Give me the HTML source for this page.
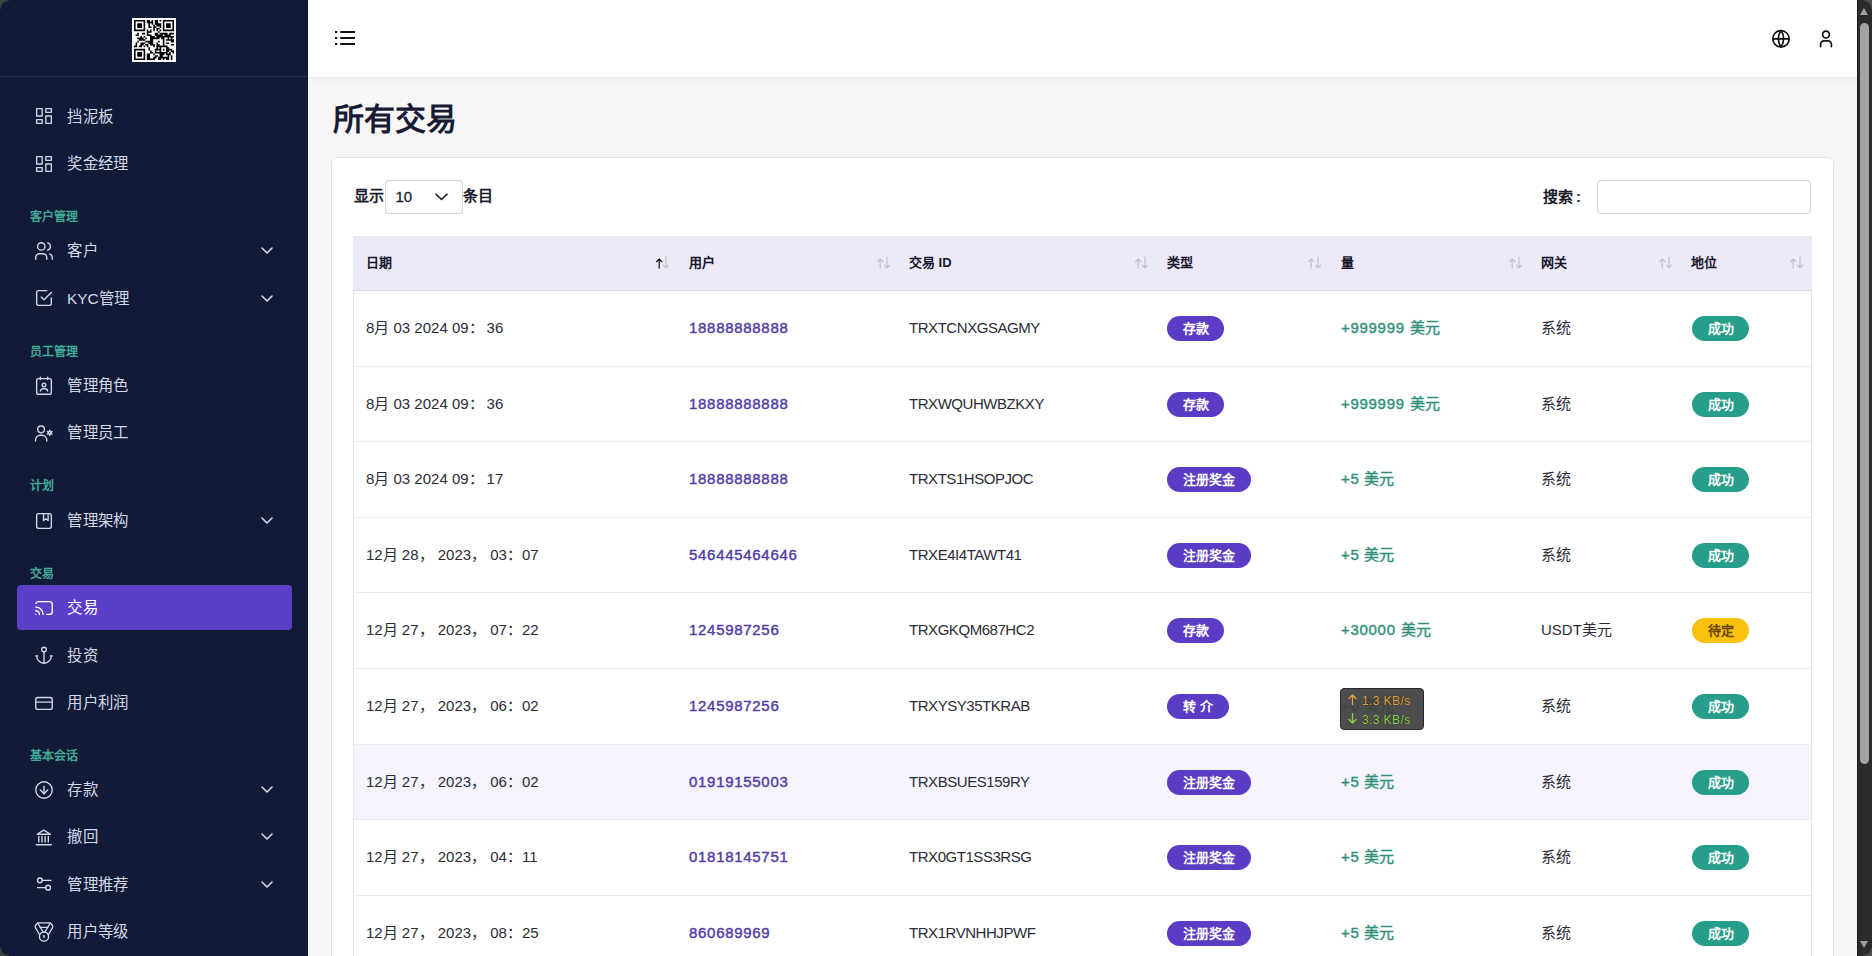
<!DOCTYPE html>
<html lang="zh-CN"><head><meta charset="utf-8">
<style>
*{box-sizing:border-box;margin:0;padding:0}
html,body{width:1872px;height:956px;overflow:hidden;background:#f6f6f6;font-family:"Liberation Sans",sans-serif;}
.sb{position:absolute;left:0;top:0;width:308px;height:956px;background:#111a37;}
.sb .logo{position:absolute;left:0;top:0;width:308px;height:77px;border-bottom:1px solid #283150;}
.qr{position:absolute;left:132px;top:18px;width:44px;height:44px;}
.qr svg{display:block}
.it{position:absolute;left:17px;width:275px;height:45px;border-radius:4px;color:#d3d8e8;font-size:15.4px;}
.it .ic{position:absolute;left:15.5px;top:11.5px;width:22px;height:22px;}
.it .tx{position:absolute;left:50px;top:0;line-height:45px;white-space:nowrap;}
.it .ch{position:absolute;left:244px;top:19px;width:12px;height:7px;}
.it.act{background:#5c3fc8;color:#fff;}
.sec{position:absolute;left:30px;font-size:12px;font-weight:bold;color:#42a996;line-height:14px;white-space:nowrap;}
.top{position:absolute;left:308px;top:0;width:1549px;height:78px;background:#fff;box-shadow:0 2px 8px rgba(0,0,0,0.035);border-bottom:1px solid #e9e9ec;}
.top svg{position:absolute;}
.title{position:absolute;left:333px;top:98px;font-size:31px;font-weight:bold;color:#171b34;line-height:44px;white-space:nowrap;}
.card{position:absolute;left:331px;top:157px;width:1503px;height:820px;background:#fff;border:1px solid #e2e2e5;border-radius:6px;}
.lbl{position:absolute;font-size:15px;font-weight:bold;color:#1b1d2b;line-height:20px;white-space:nowrap;}
.sel{position:absolute;left:385px;top:180px;width:78px;height:34px;border:1px solid #d2d2d8;border-radius:4px;background:#fff;}
.sel span{position:absolute;left:9.5px;top:0;line-height:32px;font-size:15px;color:#1b1d2b;-webkit-text-stroke:0.3px #1b1d2b;}
.sel svg{position:absolute;left:49px;top:12px;}
.inp{position:absolute;left:1597px;top:180px;width:214px;height:34px;border:1px solid #d2d2d8;border-radius:4px;background:#fff;}
.thead{position:absolute;left:353px;top:236px;width:1459px;height:55px;background:#ede9f9;border-bottom:1px solid #d9d6e6;}
.th{position:absolute;top:0;line-height:54px;font-size:13px;font-weight:bold;color:#14162a;white-space:nowrap;}
.so{display:block;width:14px;height:14px;}
.tbody{position:absolute;left:353px;top:291px;width:1459px;height:700px;border-left:1px solid #e6e6ea;border-right:1px solid #e6e6ea;}
.row{position:absolute;left:0;width:1457px;height:75.5px;border-bottom:1px solid #ececf0;}
.row.hov{background:#f5f4fc;}
.c{position:absolute;top:0;line-height:74px;font-size:15px;color:#2c2c38;white-space:nowrap;}
.u{color:#503ba6;-webkit-text-stroke:0.4px #503ba6;letter-spacing:0.7px;}
.am{color:#2e9079;-webkit-text-stroke:0.4px #2e9079;letter-spacing:0.7px;}
.tid{letter-spacing:-0.45px;}
.bd{position:absolute;top:25px;height:25px;border-radius:13px;font-size:13px;font-weight:bold;color:#fff;line-height:25px;text-align:center;white-space:nowrap;}
.cj{display:inline-block;width:1em;text-align:center;}
.bp{background:#5b3cc4;}
.bg{background:#269e8a;}
.by{background:#f8c10d;color:#6a4500;}
.net{position:absolute;left:1340px;top:688px;width:84px;height:42px;background:rgba(62,62,62,0.92);border:1px solid #2a2a2a;border-radius:4px;}
.net div{position:absolute;left:21px;font-size:12px;line-height:14px;letter-spacing:0.4px;white-space:nowrap;text-shadow:0 0 1px #111;}
.net svg{position:absolute;left:7px;}
.net .a{top:5px;color:#e9a23b}.net .b{top:24px;color:#8bd24b}
.sbar{position:absolute;left:1857px;top:0;width:15px;height:956px;background:#2b2b2b;border-left:1px solid #1e1e1e;}
.wc{position:absolute;width:9px;height:9px;}
.thumb{position:absolute;left:2px;top:23px;width:9px;height:741px;background:#a3a3a3;border-radius:5px;}
.sbar .up,.sbar .dn{position:absolute;left:2px;width:0;height:0;border-left:4.6px solid transparent;border-right:4.6px solid transparent;}
.sbar .up{top:8px;border-bottom:7px solid #a0a0a0;}
.sbar .dn{top:941px;border-top:7px solid #a0a0a0;}
</style></head><body>
<div class="sb">
  <div class="logo"><div class="qr"><svg width="44" height="44" viewBox="0 0 44 44"><rect width="44" height="44" fill="#fff"/><path d="M2.0 2.0h11.2v1.6h-11.2zM14.8 2.0h3.2v1.6h-3.2zM19.6 2.0h1.6v1.6h-1.6zM22.8 2.0h3.2v1.6h-3.2zM27.6 2.0h1.6v1.6h-1.6zM30.8 2.0h11.2v1.6h-11.2zM2.0 3.6h1.6v1.6h-1.6zM11.6 3.6h1.6v1.6h-1.6zM14.8 3.6h6.4v1.6h-6.4zM22.8 3.6h3.2v1.6h-3.2zM30.8 3.6h1.6v1.6h-1.6zM40.4 3.6h1.6v1.6h-1.6zM2.0 5.2h1.6v1.6h-1.6zM5.2 5.2h4.8v1.6h-4.8zM11.6 5.2h1.6v1.6h-1.6zM16.4 5.2h1.6v1.6h-1.6zM19.6 5.2h1.6v1.6h-1.6zM22.8 5.2h6.4v1.6h-6.4zM30.8 5.2h1.6v1.6h-1.6zM34.0 5.2h4.8v1.6h-4.8zM40.4 5.2h1.6v1.6h-1.6zM2.0 6.8h1.6v1.6h-1.6zM5.2 6.8h4.8v1.6h-4.8zM11.6 6.8h1.6v1.6h-1.6zM16.4 6.8h1.6v1.6h-1.6zM21.2 6.8h1.6v1.6h-1.6zM24.4 6.8h4.8v1.6h-4.8zM30.8 6.8h1.6v1.6h-1.6zM34.0 6.8h4.8v1.6h-4.8zM40.4 6.8h1.6v1.6h-1.6zM2.0 8.4h1.6v1.6h-1.6zM5.2 8.4h4.8v1.6h-4.8zM11.6 8.4h1.6v1.6h-1.6zM16.4 8.4h3.2v1.6h-3.2zM21.2 8.4h3.2v1.6h-3.2zM27.6 8.4h1.6v1.6h-1.6zM30.8 8.4h1.6v1.6h-1.6zM34.0 8.4h4.8v1.6h-4.8zM40.4 8.4h1.6v1.6h-1.6zM2.0 10.0h1.6v1.6h-1.6zM11.6 10.0h1.6v1.6h-1.6zM21.2 10.0h1.6v1.6h-1.6zM24.4 10.0h3.2v1.6h-3.2zM30.8 10.0h1.6v1.6h-1.6zM40.4 10.0h1.6v1.6h-1.6zM2.0 11.6h11.2v1.6h-11.2zM14.8 11.6h1.6v1.6h-1.6zM18.0 11.6h1.6v1.6h-1.6zM21.2 11.6h1.6v1.6h-1.6zM24.4 11.6h1.6v1.6h-1.6zM27.6 11.6h1.6v1.6h-1.6zM30.8 11.6h11.2v1.6h-11.2zM14.8 13.2h4.8v1.6h-4.8zM26.0 13.2h1.6v1.6h-1.6zM5.2 14.8h1.6v1.6h-1.6zM10.0 14.8h3.2v1.6h-3.2zM14.8 14.8h1.6v1.6h-1.6zM22.8 14.8h3.2v1.6h-3.2zM27.6 14.8h8.0v1.6h-8.0zM37.2 14.8h4.8v1.6h-4.8zM3.6 16.4h3.2v1.6h-3.2zM14.8 16.4h4.8v1.6h-4.8zM22.8 16.4h8.0v1.6h-8.0zM32.4 16.4h6.4v1.6h-6.4zM8.4 18.0h1.6v1.6h-1.6zM11.6 18.0h1.6v1.6h-1.6zM18.0 18.0h4.8v1.6h-4.8zM24.4 18.0h17.6v1.6h-17.6zM5.2 19.6h6.4v1.6h-6.4zM13.2 19.6h1.6v1.6h-1.6zM18.0 19.6h9.6v1.6h-9.6zM29.2 19.6h3.2v1.6h-3.2zM35.6 19.6h1.6v1.6h-1.6zM38.8 19.6h1.6v1.6h-1.6zM6.8 21.2h6.4v1.6h-6.4zM18.0 21.2h3.2v1.6h-3.2zM30.8 21.2h1.6v1.6h-1.6zM34.0 21.2h8.0v1.6h-8.0zM5.2 22.8h1.6v1.6h-1.6zM13.2 22.8h8.0v1.6h-8.0zM26.0 22.8h1.6v1.6h-1.6zM30.8 22.8h1.6v1.6h-1.6zM38.8 22.8h3.2v1.6h-3.2zM3.6 24.4h1.6v1.6h-1.6zM8.4 24.4h4.8v1.6h-4.8zM16.4 24.4h4.8v1.6h-4.8zM24.4 24.4h1.6v1.6h-1.6zM30.8 24.4h1.6v1.6h-1.6zM34.0 24.4h3.2v1.6h-3.2zM3.6 26.0h1.6v1.6h-1.6zM8.4 26.0h3.2v1.6h-3.2zM13.2 26.0h3.2v1.6h-3.2zM18.0 26.0h4.8v1.6h-4.8zM24.4 26.0h3.2v1.6h-3.2zM30.8 26.0h1.6v1.6h-1.6zM38.8 26.0h3.2v1.6h-3.2zM2.0 27.6h3.2v1.6h-3.2zM6.8 27.6h3.2v1.6h-3.2zM11.6 27.6h1.6v1.6h-1.6zM14.8 27.6h1.6v1.6h-1.6zM21.2 27.6h1.6v1.6h-1.6zM24.4 27.6h11.2v1.6h-11.2zM16.4 29.2h1.6v1.6h-1.6zM24.4 29.2h1.6v1.6h-1.6zM27.6 29.2h1.6v1.6h-1.6zM34.0 29.2h3.2v1.6h-3.2zM2.0 30.8h11.2v1.6h-11.2zM16.4 30.8h1.6v1.6h-1.6zM22.8 30.8h6.4v1.6h-6.4zM30.8 30.8h1.6v1.6h-1.6zM34.0 30.8h6.4v1.6h-6.4zM2.0 32.4h1.6v1.6h-1.6zM11.6 32.4h1.6v1.6h-1.6zM18.0 32.4h1.6v1.6h-1.6zM22.8 32.4h1.6v1.6h-1.6zM27.6 32.4h1.6v1.6h-1.6zM34.0 32.4h3.2v1.6h-3.2zM38.8 32.4h3.2v1.6h-3.2zM2.0 34.0h1.6v1.6h-1.6zM5.2 34.0h4.8v1.6h-4.8zM11.6 34.0h1.6v1.6h-1.6zM18.0 34.0h3.2v1.6h-3.2zM22.8 34.0h12.8v1.6h-12.8zM37.2 34.0h1.6v1.6h-1.6zM40.4 34.0h1.6v1.6h-1.6zM2.0 35.6h1.6v1.6h-1.6zM5.2 35.6h4.8v1.6h-4.8zM11.6 35.6h1.6v1.6h-1.6zM14.8 35.6h3.2v1.6h-3.2zM21.2 35.6h1.6v1.6h-1.6zM27.6 35.6h4.8v1.6h-4.8zM34.0 35.6h4.8v1.6h-4.8zM2.0 37.2h1.6v1.6h-1.6zM5.2 37.2h4.8v1.6h-4.8zM11.6 37.2h1.6v1.6h-1.6zM14.8 37.2h3.2v1.6h-3.2zM22.8 37.2h3.2v1.6h-3.2zM27.6 37.2h3.2v1.6h-3.2zM35.6 37.2h1.6v1.6h-1.6zM38.8 37.2h1.6v1.6h-1.6zM2.0 38.8h1.6v1.6h-1.6zM11.6 38.8h1.6v1.6h-1.6zM14.8 38.8h3.2v1.6h-3.2zM21.2 38.8h3.2v1.6h-3.2zM26.0 38.8h11.2v1.6h-11.2zM38.8 38.8h1.6v1.6h-1.6zM2.0 40.4h11.2v1.6h-11.2zM14.8 40.4h8.0v1.6h-8.0zM26.0 40.4h3.2v1.6h-3.2zM30.8 40.4h1.6v1.6h-1.6zM34.0 40.4h3.2v1.6h-3.2zM38.8 40.4h1.6v1.6h-1.6z" fill="#000"/></svg></div></div>
<div class="it" style="top:93.5px"><svg class="ic" viewBox="0 0 24 24" fill="none" stroke="currentColor" stroke-width="1.5" stroke-linecap="round" stroke-linejoin="round"><path d="M4 4h6v8h-6z"/><path d="M4 16h6v4h-6z"/><path d="M14 12h6v8h-6z"/><path d="M14 4h6v4h-6z"/></svg><span class="tx"><span class="cj">挡</span><span class="cj">泥</span><span class="cj">板</span></span></div>
<div class="it" style="top:141.0px"><svg class="ic" viewBox="0 0 24 24" fill="none" stroke="currentColor" stroke-width="1.5" stroke-linecap="round" stroke-linejoin="round"><path d="M4 4h6v8h-6z"/><path d="M4 16h6v4h-6z"/><path d="M14 12h6v8h-6z"/><path d="M14 4h6v4h-6z"/></svg><span class="tx"><span class="cj">奖</span><span class="cj">金</span><span class="cj">经</span><span class="cj">理</span></span></div>
<div class="sec" style="top:209.5px"><span class="cj">客</span><span class="cj">户</span><span class="cj">管</span><span class="cj">理</span></div>
<div class="it" style="top:228.2px"><svg class="ic" viewBox="0 0 24 24" fill="none" stroke="currentColor" stroke-width="1.5" stroke-linecap="round" stroke-linejoin="round"><circle cx="9" cy="7" r="4"/><path d="M3 21v-2a4 4 0 0 1 4 -4h4a4 4 0 0 1 4 4v2"/><path d="M16 3.13a4 4 0 0 1 0 7.75"/><path d="M21 21v-2a4 4 0 0 0 -3 -3.85"/></svg><span class="tx"><span class="cj">客</span><span class="cj">户</span></span><svg class="ch" viewBox="0 0 12 7" fill="none" stroke="currentColor" stroke-width="1.6" stroke-linecap="round" stroke-linejoin="round"><path d="M1 1l5 5l5 -5"/></svg></div>
<div class="it" style="top:275.8px"><svg class="ic" viewBox="0 0 24 24" fill="none" stroke="currentColor" stroke-width="1.5" stroke-linecap="round" stroke-linejoin="round"><path d="M9 11l3 3l8 -8"/><path d="M20 12v6a2 2 0 0 1 -2 2h-12a2 2 0 0 1 -2 -2v-12a2 2 0 0 1 2 -2h9"/></svg><span class="tx">KYC<span class="cj">管</span><span class="cj">理</span></span><svg class="ch" viewBox="0 0 12 7" fill="none" stroke="currentColor" stroke-width="1.6" stroke-linecap="round" stroke-linejoin="round"><path d="M1 1l5 5l5 -5"/></svg></div>
<div class="sec" style="top:345.0px"><span class="cj">员</span><span class="cj">工</span><span class="cj">管</span><span class="cj">理</span></div>
<div class="it" style="top:363.1px"><svg class="ic" viewBox="0 0 24 24" fill="none" stroke="currentColor" stroke-width="1.5" stroke-linecap="round" stroke-linejoin="round"><rect x="4" y="4" width="16" height="17" rx="2"/><path d="M8 2.5v2.5M16 2.5v2.5"/><circle cx="12" cy="11" r="2"/><path d="M8 17.5a3 2.5 0 0 1 3 -2.5h2a3 2.5 0 0 1 3 2.5"/></svg><span class="tx"><span class="cj">管</span><span class="cj">理</span><span class="cj">角</span><span class="cj">色</span></span></div>
<div class="it" style="top:410.1px"><svg class="ic" viewBox="0 0 24 24" fill="none" stroke="currentColor" stroke-width="1.5" stroke-linecap="round" stroke-linejoin="round"><circle cx="8.8" cy="8" r="3.7"/><path d="M2.8 20.8v-1.3a5 5 0 0 1 5 -5h2.2a5 5 0 0 1 5 5v1.3"/><circle cx="18.2" cy="11.8" r="1.5"/><path d="M18.2 8.9v1.2M18.2 13.5v1.2M15.7 10.4l1 .6M19.7 12.6l1 .6M15.7 13.2l1 -.6M19.7 11l1 -.6" stroke-width="1.6"/></svg><span class="tx"><span class="cj">管</span><span class="cj">理</span><span class="cj">员</span><span class="cj">工</span></span></div>
<div class="sec" style="top:479.0px"><span class="cj">计</span><span class="cj">划</span></div>
<div class="it" style="top:498.0px"><svg class="ic" viewBox="0 0 24 24" fill="none" stroke="currentColor" stroke-width="1.5" stroke-linecap="round" stroke-linejoin="round"><rect x="4" y="4" width="16" height="16" rx="2"/><path d="M11.5 4v7.5l2.5 -2l2.5 2v-7.5"/></svg><span class="tx"><span class="cj">管</span><span class="cj">理</span><span class="cj">架</span><span class="cj">构</span></span><svg class="ch" viewBox="0 0 12 7" fill="none" stroke="currentColor" stroke-width="1.6" stroke-linecap="round" stroke-linejoin="round"><path d="M1 1l5 5l5 -5"/></svg></div>
<div class="sec" style="top:567.0px"><span class="cj">交</span><span class="cj">易</span></div>
<div class="it act" style="top:585.0px"><svg class="ic" viewBox="0 0 24 24" fill="none" stroke="currentColor" stroke-width="1.5" stroke-linecap="round" stroke-linejoin="round"><path d="M3 19h.01"/><path d="M7 19a4 4 0 0 0 -4 -4"/><path d="M11 19a8 8 0 0 0 -8 -8"/><path d="M15 19h3a3 3 0 0 0 3 -3v-8a3 3 0 0 0 -3 -3h-12a3 3 0 0 0 -2.8 2"/></svg><span class="tx"><span class="cj">交</span><span class="cj">易</span></span></div>
<div class="it" style="top:632.5px"><svg class="ic" viewBox="0 0 24 24" fill="none" stroke="currentColor" stroke-width="1.5" stroke-linecap="round" stroke-linejoin="round"><path d="M12 9v12m-8 -8a8 8 0 0 0 16 0m1 0h-2m-14 0h-2"/><circle cx="12" cy="6" r="2.5"/></svg><span class="tx"><span class="cj">投</span><span class="cj">资</span></span></div>
<div class="it" style="top:680.3px"><svg class="ic" viewBox="0 0 24 24" fill="none" stroke="currentColor" stroke-width="1.5" stroke-linecap="round" stroke-linejoin="round"><rect x="3" y="6" width="18" height="13" rx="2.5"/><path d="M3 11h18"/></svg><span class="tx"><span class="cj">用</span><span class="cj">户</span><span class="cj">利</span><span class="cj">润</span></span></div>
<div class="sec" style="top:748.8px"><span class="cj">基</span><span class="cj">本</span><span class="cj">会</span><span class="cj">话</span></div>
<div class="it" style="top:767.3px"><svg class="ic" viewBox="0 0 24 24" fill="none" stroke="currentColor" stroke-width="1.5" stroke-linecap="round" stroke-linejoin="round"><circle cx="12" cy="12" r="9"/><path d="M8 12l4 4l4 -4"/><path d="M12 8v8"/></svg><span class="tx"><span class="cj">存</span><span class="cj">款</span></span><svg class="ch" viewBox="0 0 12 7" fill="none" stroke="currentColor" stroke-width="1.6" stroke-linecap="round" stroke-linejoin="round"><path d="M1 1l5 5l5 -5"/></svg></div>
<div class="it" style="top:814.0px"><svg class="ic" viewBox="0 0 24 24" fill="none" stroke="currentColor" stroke-width="1.5" stroke-linecap="round" stroke-linejoin="round"><path d="M3.5 20.5h16.5"/><path d="M4.5 9h14.5l-7.25 -4.5z"/><path d="M6.3 11.5v6M9.8 11.5v6M13.2 11.5v6M16.7 11.5v6"/></svg><span class="tx"><span class="cj">撤</span><span class="cj">回</span></span><svg class="ch" viewBox="0 0 12 7" fill="none" stroke="currentColor" stroke-width="1.6" stroke-linecap="round" stroke-linejoin="round"><path d="M1 1l5 5l5 -5"/></svg></div>
<div class="it" style="top:861.6px"><svg class="ic" viewBox="0 0 24 24" fill="none" stroke="currentColor" stroke-width="1.5" stroke-linecap="round" stroke-linejoin="round"><circle cx="7.5" cy="8" r="2.6"/><path d="M10.1 8h9.5"/><path d="M5 16h8.9"/><circle cx="16.5" cy="16" r="2.6"/></svg><span class="tx"><span class="cj">管</span><span class="cj">理</span><span class="cj">推</span><span class="cj">荐</span></span><svg class="ch" viewBox="0 0 12 7" fill="none" stroke="currentColor" stroke-width="1.6" stroke-linecap="round" stroke-linejoin="round"><path d="M1 1l5 5l5 -5"/></svg></div>
<div class="it" style="top:909.0px"><svg class="ic" viewBox="0 0 24 24" fill="none" stroke="currentColor" stroke-width="1.5" stroke-linecap="round" stroke-linejoin="round"><path d="M7.21 15 2.66 7.14a2 2 0 0 1 .13-2.2L4.4 2.8A2 2 0 0 1 6 2h12a2 2 0 0 1 1.6.8l1.6 2.14a2 2 0 0 1 .14 2.2L16.79 15"/><path d="M11 12 5.12 2.2"/><path d="m13 12 5.88-9.8"/><path d="M8 7h8"/><circle cx="12" cy="17" r="5"/><path d="M12 18v-2h-.5"/></svg><span class="tx"><span class="cj">用</span><span class="cj">户</span><span class="cj">等</span><span class="cj">级</span></span></div>
</div>
<div class="top">
  <svg style="left:24px;top:26px" width="26" height="24" viewBox="0 0 26 24" fill="none" stroke="#111" stroke-width="2"><path d="M8.2 6h14.8M8.2 12h14.8M8.2 18h14.8"/><path d="M3 6h2.2M3 12h2.2M3 18h2.2"/></svg>
  <svg style="left:1461px;top:27px" width="24" height="24" viewBox="0 0 24 24" fill="none" stroke="#111" stroke-width="1.7" stroke-linecap="round" stroke-linejoin="round"><circle cx="12" cy="11.8" r="8.2"/><path d="M3.8 11.8h16.4"/><path d="M12 3.6a14 14 0 0 0 0 16.4a14 14 0 0 0 0 -16.4"/></svg>
  <svg style="left:1506px;top:27px" width="24" height="24" viewBox="0 0 24 24" fill="none" stroke="#111" stroke-width="1.7" stroke-linecap="round" stroke-linejoin="round"><circle cx="12" cy="7.6" r="3.4"/><path d="M6.6 19.6v-2.4a3.4 3.4 0 0 1 3.4 -3.4h4a3.4 3.4 0 0 1 3.4 3.4v2.4"/></svg>
</div>
<div class="title"><span class="cj">所</span><span class="cj">有</span><span class="cj">交</span><span class="cj">易</span></div>
<div class="card"></div>
<div class="lbl" style="left:354px;top:186px"><span class="cj">显</span><span class="cj">示</span></div>
<div class="sel"><span>10</span><svg width="13" height="8" viewBox="0 0 13 8" fill="none" stroke="#222" stroke-width="1.6" stroke-linecap="round" stroke-linejoin="round"><path d="M1 1.2l5.5 5.3l5.5 -5.3"/></svg></div>
<div class="lbl" style="left:463px;top:186px"><span class="cj">条</span><span class="cj">目</span></div>
<div class="lbl" style="left:1543px;top:187px"><span class="cj">搜</span><span class="cj">索</span><span style="margin-left:3px">:</span></div>
<div class="inp"></div>
<div class="thead">
<div class="th" style="left:13px"><span class="cj">日</span><span class="cj">期</span></div>
<div style="position:absolute;left:302px;top:20px"><svg class="so" viewBox="0 0 14 14" fill="none" stroke-width="1.25" stroke-linecap="round" stroke-linejoin="round"><path d="M4.2 3v9M1.5 5.7L4.2 3L6.9 5.7" stroke="#1c1c28"/><path d="M11 1v10.8M8.4 9.2L11 11.8L13.6 9.2" stroke="#c2c2cc"/></svg></div>
<div class="th" style="left:336px"><span class="cj">用</span><span class="cj">户</span></div>
<div style="position:absolute;left:523px;top:20px"><svg class="so" viewBox="0 0 14 14" fill="none" stroke-width="1.25" stroke-linecap="round" stroke-linejoin="round"><path d="M4.2 3v9M1.5 5.7L4.2 3L6.9 5.7" stroke="#c2c2cc"/><path d="M11 1v10.8M8.4 9.2L11 11.8L13.6 9.2" stroke="#c2c2cc"/></svg></div>
<div class="th" style="left:556px"><span class="cj">交</span><span class="cj">易</span> ID</div>
<div style="position:absolute;left:781px;top:20px"><svg class="so" viewBox="0 0 14 14" fill="none" stroke-width="1.25" stroke-linecap="round" stroke-linejoin="round"><path d="M4.2 3v9M1.5 5.7L4.2 3L6.9 5.7" stroke="#c2c2cc"/><path d="M11 1v10.8M8.4 9.2L11 11.8L13.6 9.2" stroke="#c2c2cc"/></svg></div>
<div class="th" style="left:814px"><span class="cj">类</span><span class="cj">型</span></div>
<div style="position:absolute;left:954px;top:20px"><svg class="so" viewBox="0 0 14 14" fill="none" stroke-width="1.25" stroke-linecap="round" stroke-linejoin="round"><path d="M4.2 3v9M1.5 5.7L4.2 3L6.9 5.7" stroke="#c2c2cc"/><path d="M11 1v10.8M8.4 9.2L11 11.8L13.6 9.2" stroke="#c2c2cc"/></svg></div>
<div class="th" style="left:988px"><span class="cj">量</span></div>
<div style="position:absolute;left:1155px;top:20px"><svg class="so" viewBox="0 0 14 14" fill="none" stroke-width="1.25" stroke-linecap="round" stroke-linejoin="round"><path d="M4.2 3v9M1.5 5.7L4.2 3L6.9 5.7" stroke="#c2c2cc"/><path d="M11 1v10.8M8.4 9.2L11 11.8L13.6 9.2" stroke="#c2c2cc"/></svg></div>
<div class="th" style="left:1188px"><span class="cj">网</span><span class="cj">关</span></div>
<div style="position:absolute;left:1305px;top:20px"><svg class="so" viewBox="0 0 14 14" fill="none" stroke-width="1.25" stroke-linecap="round" stroke-linejoin="round"><path d="M4.2 3v9M1.5 5.7L4.2 3L6.9 5.7" stroke="#c2c2cc"/><path d="M11 1v10.8M8.4 9.2L11 11.8L13.6 9.2" stroke="#c2c2cc"/></svg></div>
<div class="th" style="left:1338px"><span class="cj">地</span><span class="cj">位</span></div>
<div style="position:absolute;left:1436px;top:20px"><svg class="so" viewBox="0 0 14 14" fill="none" stroke-width="1.25" stroke-linecap="round" stroke-linejoin="round"><path d="M4.2 3v9M1.5 5.7L4.2 3L6.9 5.7" stroke="#c2c2cc"/><path d="M11 1v10.8M8.4 9.2L11 11.8L13.6 9.2" stroke="#c2c2cc"/></svg></div>
</div>
<div class="tbody">
<div class="row" style="top:0px;height:76px"><div class="c dt" style="left:12px">8<span class="cj">月</span> 03 2024 09<span class="cj">：</span>&thinsp;36</div><div class="c u" style="left:335px">18888888888</div><div class="c tid" style="left:555px">TRXTCNXGSAGMY</div><div class="bd bp" style="left:813px;width:57px"><span class="cj">存</span><span class="cj">款</span></div><div class="c am" style="left:987px">+999999 <span class="cj">美</span><span class="cj">元</span></div><div class="c gw" style="left:1187px"><span class="cj">系</span><span class="cj">统</span></div><div class="bd bg" style="left:1338px;width:57px"><span class="cj">成</span><span class="cj">功</span></div></div>
<div class="row" style="top:76px;height:75px"><div class="c dt" style="left:12px">8<span class="cj">月</span> 03 2024 09<span class="cj">：</span>&thinsp;36</div><div class="c u" style="left:335px">18888888888</div><div class="c tid" style="left:555px">TRXWQUHWBZKXY</div><div class="bd bp" style="left:813px;width:57px"><span class="cj">存</span><span class="cj">款</span></div><div class="c am" style="left:987px">+999999 <span class="cj">美</span><span class="cj">元</span></div><div class="c gw" style="left:1187px"><span class="cj">系</span><span class="cj">统</span></div><div class="bd bg" style="left:1338px;width:57px"><span class="cj">成</span><span class="cj">功</span></div></div>
<div class="row" style="top:151px;height:76px"><div class="c dt" style="left:12px">8<span class="cj">月</span> 03 2024 09<span class="cj">：</span>&thinsp;17</div><div class="c u" style="left:335px">18888888888</div><div class="c tid" style="left:555px">TRXTS1HSOPJOC</div><div class="bd bp" style="left:813px;width:84px"><span class="cj">注</span><span class="cj">册</span><span class="cj">奖</span><span class="cj">金</span></div><div class="c am" style="left:987px">+5 <span class="cj">美</span><span class="cj">元</span></div><div class="c gw" style="left:1187px"><span class="cj">系</span><span class="cj">统</span></div><div class="bd bg" style="left:1338px;width:57px"><span class="cj">成</span><span class="cj">功</span></div></div>
<div class="row" style="top:227px;height:75px"><div class="c dt" style="left:12px">12<span class="cj">月</span> 28<span class="cj">，</span>  2023<span class="cj">，</span>  03<span class="cj">：</span>07</div><div class="c u" style="left:335px">546445464646</div><div class="c tid" style="left:555px">TRXE4I4TAWT41</div><div class="bd bp" style="left:813px;width:84px"><span class="cj">注</span><span class="cj">册</span><span class="cj">奖</span><span class="cj">金</span></div><div class="c am" style="left:987px">+5 <span class="cj">美</span><span class="cj">元</span></div><div class="c gw" style="left:1187px"><span class="cj">系</span><span class="cj">统</span></div><div class="bd bg" style="left:1338px;width:57px"><span class="cj">成</span><span class="cj">功</span></div></div>
<div class="row" style="top:302px;height:76px"><div class="c dt" style="left:12px">12<span class="cj">月</span> 27<span class="cj">，</span>  2023<span class="cj">，</span>  07<span class="cj">：</span>22</div><div class="c u" style="left:335px">1245987256</div><div class="c tid" style="left:555px">TRXGKQM687HC2</div><div class="bd bp" style="left:813px;width:57px"><span class="cj">存</span><span class="cj">款</span></div><div class="c am" style="left:987px">+30000 <span class="cj">美</span><span class="cj">元</span></div><div class="c gw" style="left:1187px">USDT<span class="cj">美</span><span class="cj">元</span></div><div class="bd by" style="left:1338px;width:57px"><span class="cj">待</span><span class="cj">定</span></div></div>
<div class="row" style="top:378px;height:76px"><div class="c dt" style="left:12px">12<span class="cj">月</span> 27<span class="cj">，</span>  2023<span class="cj">，</span>  06<span class="cj">：</span>02</div><div class="c u" style="left:335px">1245987256</div><div class="c tid" style="left:555px">TRXYSY35TKRAB</div><div class="bd bp" style="left:813px;width:62px"><span class="cj">转</span> <span class="cj">介</span></div><div class="c am" style="left:987px">+0 <span class="cj">美</span><span class="cj">元</span></div><div class="c gw" style="left:1187px"><span class="cj">系</span><span class="cj">统</span></div><div class="bd bg" style="left:1338px;width:57px"><span class="cj">成</span><span class="cj">功</span></div></div>
<div class="row hov" style="top:454px;height:75px"><div class="c dt" style="left:12px">12<span class="cj">月</span> 27<span class="cj">，</span>  2023<span class="cj">，</span>  06<span class="cj">：</span>02</div><div class="c u" style="left:335px">01919155003</div><div class="c tid" style="left:555px">TRXBSUES159RY</div><div class="bd bp" style="left:813px;width:84px"><span class="cj">注</span><span class="cj">册</span><span class="cj">奖</span><span class="cj">金</span></div><div class="c am" style="left:987px">+5 <span class="cj">美</span><span class="cj">元</span></div><div class="c gw" style="left:1187px"><span class="cj">系</span><span class="cj">统</span></div><div class="bd bg" style="left:1338px;width:57px"><span class="cj">成</span><span class="cj">功</span></div></div>
<div class="row" style="top:529px;height:76px"><div class="c dt" style="left:12px">12<span class="cj">月</span> 27<span class="cj">，</span>  2023<span class="cj">，</span>  04<span class="cj">：</span>11</div><div class="c u" style="left:335px">01818145751</div><div class="c tid" style="left:555px">TRX0GT1SS3RSG</div><div class="bd bp" style="left:813px;width:84px"><span class="cj">注</span><span class="cj">册</span><span class="cj">奖</span><span class="cj">金</span></div><div class="c am" style="left:987px">+5 <span class="cj">美</span><span class="cj">元</span></div><div class="c gw" style="left:1187px"><span class="cj">系</span><span class="cj">统</span></div><div class="bd bg" style="left:1338px;width:57px"><span class="cj">成</span><span class="cj">功</span></div></div>
<div class="row" style="top:605px;height:76px"><div class="c dt" style="left:12px">12<span class="cj">月</span> 27<span class="cj">，</span>  2023<span class="cj">，</span>  08<span class="cj">：</span>25</div><div class="c u" style="left:335px">860689969</div><div class="c tid" style="left:555px">TRX1RVNHHJPWF</div><div class="bd bp" style="left:813px;width:84px"><span class="cj">注</span><span class="cj">册</span><span class="cj">奖</span><span class="cj">金</span></div><div class="c am" style="left:987px">+5 <span class="cj">美</span><span class="cj">元</span></div><div class="c gw" style="left:1187px"><span class="cj">系</span><span class="cj">统</span></div><div class="bd bg" style="left:1338px;width:57px"><span class="cj">成</span><span class="cj">功</span></div></div>
</div>
<div class="net"><svg style="top:5px" width="9" height="11" viewBox="0 0 9 11" fill="none" stroke="#e9a23b" stroke-width="1.3" stroke-linecap="round" stroke-linejoin="round"><path d="M4.5 10.5V1M1 4.5L4.5 1L8 4.5"/></svg><div class="a">1.3 KB/s</div><svg style="top:24px" width="9" height="11" viewBox="0 0 9 11" fill="none" stroke="#8bd24b" stroke-width="1.3" stroke-linecap="round" stroke-linejoin="round"><path d="M4.5 0.5V10M1 6.5L4.5 10L8 6.5"/></svg><div class="b">3.3 KB/s</div></div>
<div class="sbar"><div class="up"></div><div class="thumb"></div><div class="dn"></div></div>
<div class="wc" style="left:0;top:0;background:radial-gradient(circle at 9px 9px,transparent 7.5px,#3b4240 9px)"></div>
<div class="wc" style="left:0;top:947px;background:radial-gradient(circle at 9px 0,transparent 7.5px,#3b4240 9px)"></div>
<div class="wc" style="left:1863px;top:0;background:radial-gradient(circle at 0 9px,transparent 7.5px,#4a4e4c 9px)"></div>
<div class="wc" style="left:1863px;top:947px;background:radial-gradient(circle at 0 0,transparent 7.5px,#4a4e4c 9px)"></div>
</body></html>
